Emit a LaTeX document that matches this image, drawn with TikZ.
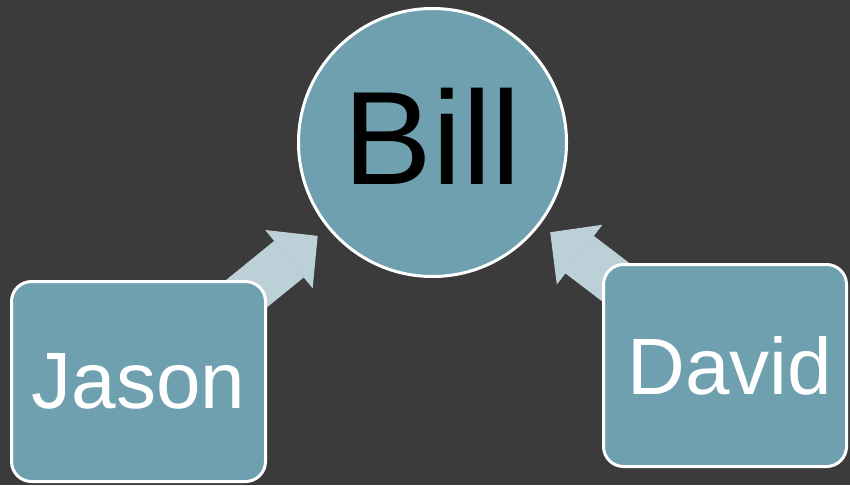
\documentclass[tikz,border=0pt]{standalone}
\usepackage{fontspec}
\setmainfont{Liberation Sans}
\usetikzlibrary{arrows.meta}
\definecolor{bgdark}{HTML}{3B3B3B}
\definecolor{teal}{HTML}{6EA0B0}
\definecolor{paleblue}{HTML}{BCD0D8}
\pgfdeclarelayer{backdrop}
\pgfdeclarelayer{under}
\pgfsetlayers{backdrop,under,main}
\begin{document}
\begin{tikzpicture}[x=1pt, y=-1pt,
  person/.style={draw=white, line width=3pt, fill=teal, rounded corners=20pt,
    text=white, font=\fontsize{80}{96}\selectfont, inner sep=0pt},
  feed/.style={paleblue, line width=47pt, shorten >=12.5pt,
    -{Triangle[length=37pt, width=75pt, line width=1pt]}}]
  \begin{pgfonlayer}{backdrop}
    \fill[bgdark] (0, 0) rectangle (850, 485);
  \end{pgfonlayer}
  \useasboundingbox (0, 0) rectangle (850, 485);
  \node[circle, draw=white, line width=3pt, fill=teal, minimum size=268pt,
    inner sep=0pt, text depth=12pt, font=\fontsize{133}{160}\selectfont] (bill)
    at (432.5, 142.5) {Bill};
  \node[person, minimum width=254pt, minimum height=200pt] (jason)
    at (138.5, 381.5) {Jason\hspace{4pt}};
  \node[person, minimum width=243pt, minimum height=202pt] (david)
    at (725, 365.5) {\hspace{10pt}David};
  \begin{pgfonlayer}{under}
    \draw[feed] (jason.center) -- (bill);
    \draw[feed] (david.center) -- (bill);
  \end{pgfonlayer}
\end{tikzpicture}
\end{document}
